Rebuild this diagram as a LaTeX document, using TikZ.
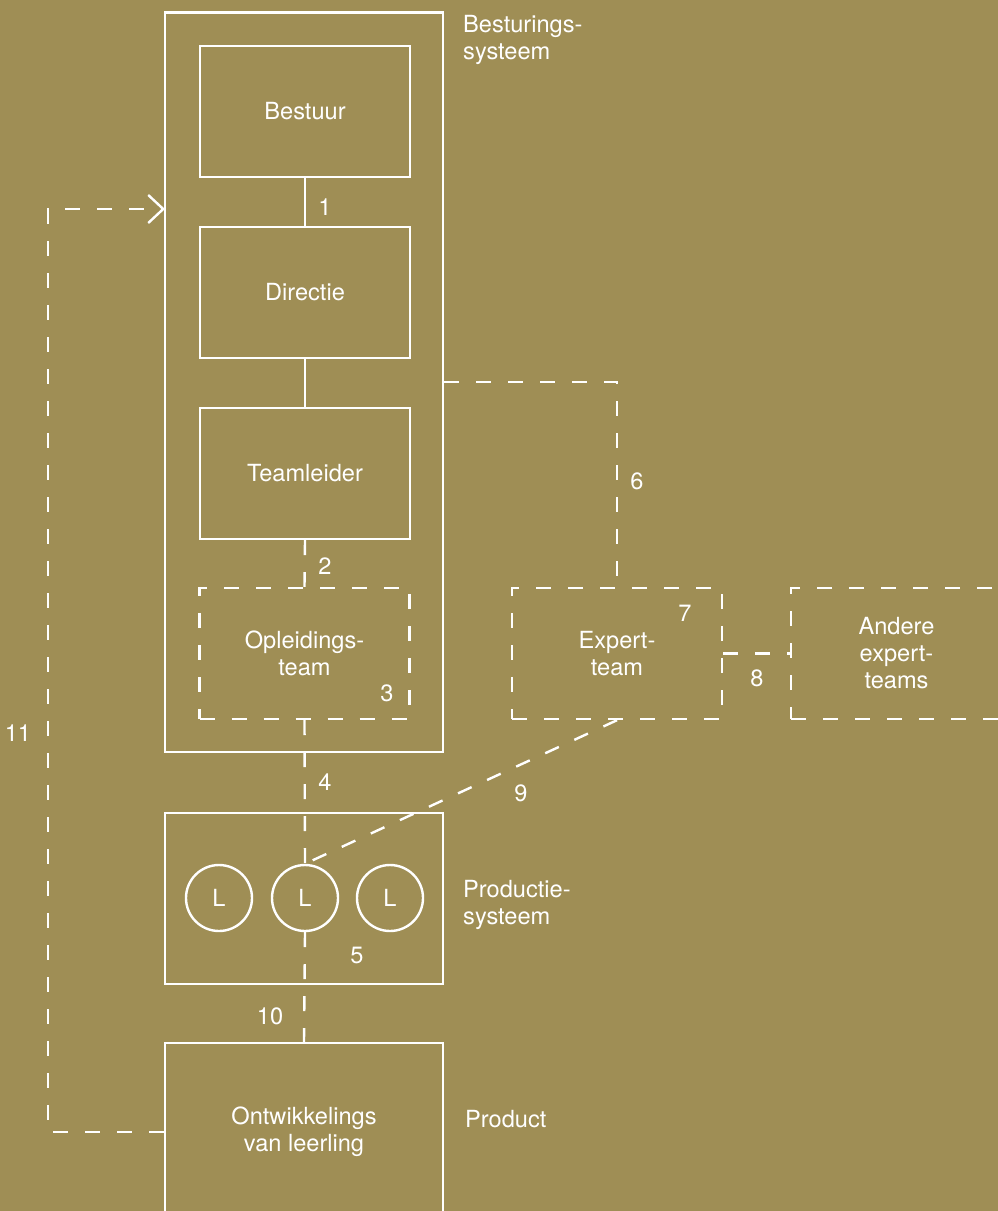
\documentclass[tikz,border=0pt]{standalone}
\usepackage{fontspec}
\setmainfont{TeX Gyre Heros}
\usetikzlibrary{arrows.meta,calc}
\definecolor{olivebg}{RGB}{159,142,85}
\begin{document}
\begin{tikzpicture}[x=1pt,y=-1pt,
  every node/.style={text=white,font=\fontsize{23.6}{27}\selectfont},
  solidline/.style={draw=white,line width=2.4pt},
  dashline/.style={draw=white,line width=2.4pt,dash pattern=on 15pt off 17pt},
  box/.style={solidline,rectangle,inner sep=0pt,align=center,minimum width=210pt,minimum height=131pt},
  dbox/.style={box,dash pattern=on 15pt off 17pt},
  bigbox/.style={solidline,rectangle,inner sep=0pt,align=center,minimum width=278pt},
  learner/.style={solidline,circle,inner sep=0pt,minimum size=66pt},
  sidelabel/.style={anchor=west,align=left,inner sep=0pt},
  num/.style={inner sep=0pt}
]
% canvas
\fill[olivebg] (0,0) rectangle (998,1211);
\useasboundingbox (0,0) rectangle (998,1211);
\clip (0,0) rectangle (998,1211);

% control system
\node[bigbox,minimum height=739.5pt] (outer) at (304,382.25) {};
\node[box] (bestuur) at (305,111.5) {Bestuur};
\node[box] (directie) at (305,292.5) {Directie};
\node[box] (teamleider) at (305,473.5) {Teamleider};
\node[dbox] (opl) at (304.5,653.5) {Opleidings-\\team};
\node[sidelabel] (lbsys) at (463,40) {Besturings-\\systeem};

% expert teams
\node[dbox] (expert) at (617,653.5) {Expert-\\team};
\node[dbox,minimum width=211pt] (andere) at (896.5,653.5) {Andere\\expert-\\teams};

% production system
\node[bigbox,minimum height=171pt] (prod) at (304,898.5) {};
\node[learner] (cL1) at (219,898) {L};
\node[learner] (cL2) at (305,898) {L};
\node[learner] (cL3) at (390,898) {L};
\node[sidelabel] (lpsys) at (463,905) {Productie-\\systeem};

% product
\node[bigbox,minimum height=178pt] (product) at (304,1132) {Ontwikkelings\\van leerling};
\node[anchor=base west,inner sep=0pt] (lprod) at (465,1127) {Product};

% connectors
\draw[solidline] (bestuur) -- (directie);
\draw[solidline] (directie) -- (teamleider);
\draw[dashline] (teamleider.south) -- (opl.north);
\draw[dashline] (opl.south) -- (cL2.north);
\draw[dashline] (cL2.south) -- (product.north);
\draw[dashline] (expert.south) -- (cL2.north);
\draw[dashline] (outer.east) -- (outer.east -| expert.north) -- (expert.north);
\draw[dashline] (expert.east) -- (andere.west);
\coordinate (loopx) at (48,0);
\coordinate (loopin) at (165,209);
\draw[dashline,-{Straight Barb[length=15pt,width=28pt]}]
  (product.west) -- (product.west -| loopx) -- (loopx |- loopin) -- (loopin);

% numbers
\node[num] (n1) at (325,207) {1};
\node[num] (n2) at (325,566) {2};
\node[num] (n3) at (387,693) {3};
\node[num] (n4) at (325,782) {4};
\node[num] (n5) at (357,955) {5};
\node[num] (n6) at (637,481) {6};
\node[num] (n7) at (685,613) {7};
\node[num] (n8) at (757,678) {8};
\node[num] (n9) at (521,793) {9};
\node[num] (n10) at (270,1016) {10};
\node[num] (n11) at (18,733) {11};
\end{tikzpicture}
\end{document}
